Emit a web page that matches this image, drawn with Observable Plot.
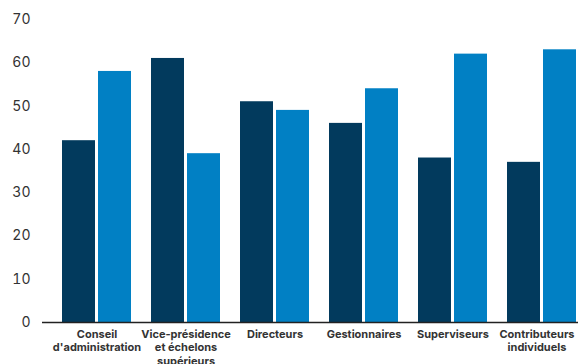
<!DOCTYPE html>
<html>
<head>
<meta charset="utf-8">
<script src="https://cdn.jsdelivr.net/npm/d3@7"></script>
<script src="https://cdn.jsdelivr.net/npm/@observablehq/plot@0.6"></script>
<style>
  html, body { margin: 0; padding: 0; background: #fff; }
  #chart { width: 578px; height: 364px; overflow: hidden; }
</style>
</head>
<body>
<div id="chart"></div>
<script>
// Job levels along the x axis
const categories = [
  "Conseil d'administration",
  "Vice-présidence et échelons supérieurs",
  "Directeurs",
  "Gestionnaires",
  "Superviseurs",
  "Contributeurs individuels"
];
// Wrapped versions shown under the axis
const tickLabels = [
  "Conseil\nd'administration",
  "Vice-présidence\net échelons\nsupérieurs",
  "Directeurs",
  "Gestionnaires",
  "Superviseurs",
  "Contributeurs\nindividuels"
];
// Share (%) for each of the two series, per job level
const seriesA = [42, 61, 51, 46, 38, 37];
const seriesB = [58, 39, 49, 54, 62, 63];
const yTicks = [0, 10, 20, 30, 40, 50, 60, 70];

const colorA = "#023a5d";
const colorB = "#0180c4";

const rowsA = categories.map((c, i) => ({category: c, value: seriesA[i]}));
const rowsB = categories.map((c, i) => ({category: c, value: seriesB[i]}));
const labelOf = new Map(categories.map((c, i) => [c, tickLabels[i]]));

// shared style for the category labels under the bars
const xAxisStyle = {
  tickSize: 0,
  tickPadding: 6,
  tickFormat: (d) => labelOf.get(d),
  fontSize: 11,
  fontWeight: "bold",
  fill: "#333",
  lineHeight: 1.22,
  label: null
};

const chart = Plot.plot({
  width: 578,
  height: 364,
  marginTop: 19,
  marginBottom: 42,
  marginLeft: 42,
  marginRight: 0,
  style: {fontFamily: "Inter, sans-serif", color: "#333", background: "#fff"},
  x: {
    domain: categories,
    range: [51.5, 587],
    paddingInner: 0.22,
    paddingOuter: 0.11,
    label: null
  },
  y: {domain: [0, 70], label: null},
  marks: [
    Plot.barY(rowsA, {x: "category", y: "value", fill: colorA, insetLeft: 0, insetRight: 36}),
    Plot.barY(rowsB, {x: "category", y: "value", fill: colorB, insetLeft: 36, insetRight: 0}),
    Plot.ruleY([0], {stroke: "#222", strokeWidth: 1.5}),
    Plot.axisY({
      ticks: yTicks,
      tickSize: 0,
      tickPadding: 12,
      fontSize: 14,
      fill: "#333",
      label: null
    }),
    Plot.axisX({...xAxisStyle, ticks: categories.slice(0, -1)}),
    // the last label is nudged left so it stays inside the page
    Plot.axisX({...xAxisStyle, ticks: categories.slice(-1), dx: -5})
  ]
});
document.getElementById("chart").append(chart);
</script>
</body>
</html>
